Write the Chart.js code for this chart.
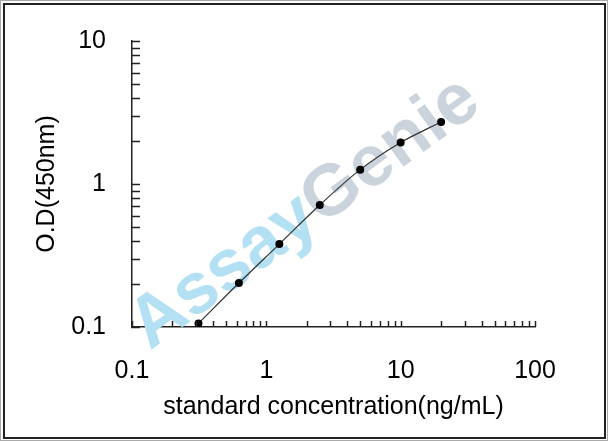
<!DOCTYPE html>
<html lang="en">

<head>
  <meta charset="UTF-8">
  <title>Standard Curve</title>
  <script src="https://cdn.jsdelivr.net/npm/chart.js"></script>
  <style>
    body { margin: 0; background: #fff; }
    #wrap { position: relative; width: 608px; height: 441px; }
  </style>
</head>

<body>

  <div id="wrap">
    <canvas id="curveChart" width="608" height="441"></canvas>
  </div>

  <script>
    // standard concentrations (ng/mL) and measured O.D at 450nm
    var concentration = [0.3125, 0.625, 1.25, 2.5, 5, 10, 20];
    var odValues = [0.106, 0.203, 0.38, 0.713, 1.26, 1.95, 2.71];

    // axis ranges
    var xRange = [0.1, 100];
    var yRange = [0.1, 10];

    var labelFont = { family: "'Liberation Sans', Arial, sans-serif", size: 25 };

    function logTicks(min, max) {
      var out = [];
      var lo = Math.round(Math.log10(min));
      var hi = Math.round(Math.log10(max));
      for (var e = lo; e < hi; e++) {
        for (var m = 1; m <= 9; m++) out.push(m * Math.pow(10, e));
      }
      out.push(Math.pow(10, hi));
      return out;
    }

    function isDecade(v) {
      var l = Math.log10(v);
      return Math.abs(l - Math.round(l)) < 1e-9;
    }

    // faint watermark behind the curve
    var watermark = {
      id: 'watermark',
      beforeDatasetsDraw: function (chart) {
        var ctx = chart.ctx;
        ctx.save();
        ctx.translate(310, 210);
        ctx.rotate(-36 * Math.PI / 180);
        ctx.font = "bold 72px 'Liberation Sans', Arial, sans-serif";
        ctx.textBaseline = 'middle';
        ctx.textAlign = 'right';
        ctx.fillStyle = '#b3e0f3';
        ctx.fillText('Assay', 0, 0);
        ctx.textAlign = 'left';
        ctx.fillStyle = '#cbd3dc';
        ctx.fillText('Genie', 0, 0);
        ctx.restore();
      }
    };

    // tick marks pointing into the plot, plus the picture frame
    var innerTicks = {
      id: 'innerTicks',
      afterDraw: function (chart) {
        var ctx = chart.ctx;
        var area = chart.chartArea;
        var xs = chart.scales.x, ys = chart.scales.y;
        ctx.save();
        ctx.strokeStyle = '#222';
        ctx.lineWidth = 1.5;
        ctx.beginPath();
        xs.ticks.forEach(function (t) {
          var p = Math.round(xs.getPixelForValue(t.value)) + 0.5;
          ctx.moveTo(p, area.bottom);
          ctx.lineTo(p, area.bottom - 6);
        });
        ys.ticks.forEach(function (t) {
          var p = Math.round(ys.getPixelForValue(t.value)) + 0.5;
          ctx.moveTo(area.left - 1, p);
          ctx.lineTo(area.left + 8, p);
        });
        ctx.stroke();

        ctx.strokeStyle = '#aaa';
        ctx.lineWidth = 1;
        ctx.strokeRect(0.5, 0.5, 607, 440);
        ctx.strokeStyle = '#222';
        ctx.lineWidth = 2;
        ctx.strokeRect(4, 4, 601, 434);
        ctx.restore();
      }
    };

    var ctx = document.getElementById('curveChart').getContext('2d');
    var curveChart = new Chart(ctx, {
      type: 'line',
      data: {
        datasets: [{
          data: concentration.map(function (c, i) { return { x: c, y: odValues[i] }; }),
          borderColor: '#333',
          borderWidth: 1.2,
          cubicInterpolationMode: 'monotone',
          pointRadius: 4,
          pointBackgroundColor: '#000',
          pointBorderColor: '#000',
          pointBorderWidth: 0
        }]
      },
      options: {
        responsive: false,
        animation: false,
        devicePixelRatio: 1,
        layout: { padding: { top: 34, right: 73, bottom: 0, left: 0 } },
        plugins: {
          legend: { display: false },
          tooltip: { enabled: false }
        },
        scales: {
          x: {
            type: 'logarithmic',
            min: xRange[0],
            max: xRange[1],
            afterBuildTicks: function (s) {
              s.ticks = logTicks(xRange[0], xRange[1]).map(function (v) { return { value: v }; });
            },
            afterFit: function (s) { s.height = 114; },
            grid: { display: false, drawTicks: false },
            border: { display: true, color: '#222', width: 1.5 },
            ticks: {
              autoSkip: false,
              maxRotation: 0,
              padding: 29,
              color: '#000',
              font: labelFont,
              callback: function (v) { return isDecade(v) ? String(v) : ''; }
            },
            title: {
              display: true,
              text: 'standard concentration(ng/mL)',
              color: '#000',
              font: labelFont,
              padding: { top: 0, bottom: 19 }
            }
          },
          y: {
            type: 'logarithmic',
            min: yRange[0],
            max: yRange[1],
            afterBuildTicks: function (s) {
              s.ticks = logTicks(yRange[0], yRange[1]).map(function (v) { return { value: v }; });
            },
            afterFit: function (s) { s.width = 132; },
            grid: { display: false, drawTicks: false },
            border: { display: true, color: '#222', width: 1.5 },
            ticks: {
              autoSkip: false,
              padding: 26,
              color: '#000',
              font: labelFont,
              callback: function (v) { return isDecade(v) ? String(v) : ''; }
            },
            title: {
              display: true,
              text: 'O.D(450nm)',
              color: '#000',
              font: labelFont,
              padding: { top: 32, bottom: 0 }
            }
          }
        }
      },
      plugins: [watermark, innerTicks]
    });
  </script>

</body>

</html>
